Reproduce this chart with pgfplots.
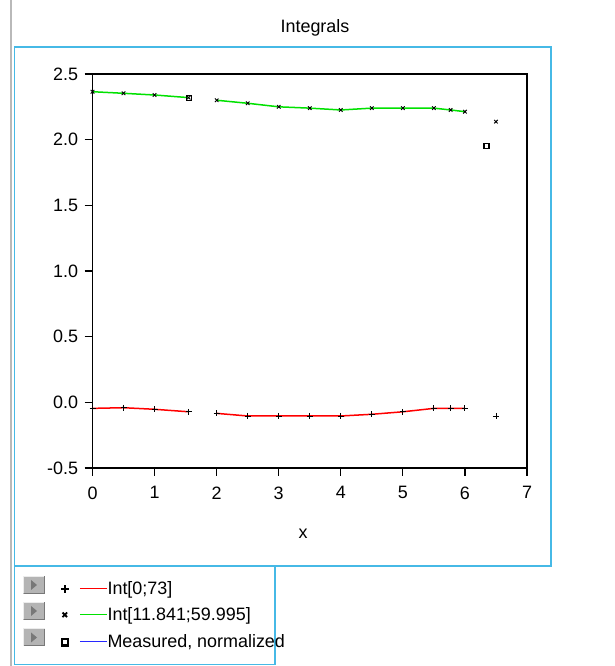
\documentclass[border=0pt]{standalone}
\usepackage{fontspec}
\setmainfont{Liberation Sans}
\usepackage{pgfplots}
\pgfplotsset{compat=1.18}

\definecolor{framecyan}{RGB}{70,185,230}
\definecolor{intgreen}{RGB}{0,225,0}
\definecolor{measblue}{RGB}{40,40,255}
\definecolor{iconface}{RGB}{180,180,180}
\definecolor{icondark}{RGB}{120,120,120}

% gray "play" button in front of each legend row (argument: centre y)
\newcommand{\playicon}[1]{%
  \fill[iconface] (23,#1-9) rectangle (45,#1+9);
  \draw[white!85!gray, line width=1bp] (23.5,#1-8.5) -- (23.5,#1+8.5) -- (44.5,#1+8.5);
  \draw[icondark, line width=1bp] (44.5,#1+8.5) -- (44.5,#1-8.5) -- (23.5,#1-8.5);
  \fill[icondark] (31,#1-5) -- (37,#1) -- (31,#1+5) -- cycle;
}

\begin{document}
\begin{tikzpicture}[x=1bp, y=1bp, font=\fontsize{18}{21}\selectfont]
\useasboundingbox (0,0) rectangle (615,666);

% window decorations
\draw[gray!55, line width=1.5bp] (11,0) -- (11,666);
\draw[framecyan, line width=1.6bp] (14.5,619) rectangle (551,100);
\draw[framecyan, line width=1.6bp] (14.5,100) rectangle (275,1.5);
\node[anchor=base] at (315,633.3) {Integrals};

\playicon{81}
\playicon{55}
\playicon{28.5}

\begin{axis}[
  at={(92.5bp,198bp)}, anchor=south west,
  scale only axis, width=434.5bp, height=394bp,
  xmin=0, xmax=7, ymin=-0.5, ymax=2.5,
  axis line style={black, line width=1.5bp},
  tick style={black, line width=1.2bp},
  tick align=outside, major tick length=8bp,
  xtick pos=bottom, ytick pos=left,
  xtick={0,1,...,7},
  ytick={-0.5,0,0.5,1,1.5,2,2.5},
  /pgf/number format/assume math mode=true,
  yticklabel style={xshift=-3bp, /pgf/number format/.cd, fixed, fixed zerofill, precision=1},
  xticklabel style={yshift=-7bp},
  ticklabel style={font=\fontsize{18}{21}\selectfont},
  xlabel={x},
  xlabel style={at={(axis description cs:0.4845,0)}, anchor=base, yshift=-71bp},
  unbounded coords=jump,
  legend style={at={(axis description cs:-0.0725,-0.285)}, anchor=north west,
    draw=none, fill=none, inner sep=0pt, outer sep=0pt,
    row sep=8.5bp, column sep=0pt,
    nodes={inner sep=0pt, text height=14bp, text depth=4bp},
    font=\fontsize{18}{21}\selectfont},
  legend cell align=left,
]

% Int[0;73]
\addplot[red, line width=1.5bp, mark=+, mark size=3bp,
  mark options={black, line width=0.9bp},
  legend image code/.code={
    \draw[red, line width=1.3bp] (15bp,1bp) -- (42bp,1bp);
    \draw[black] plot[mark=+, mark size=3.8bp,
      mark options={black, line width=2bp}] coordinates {(0bp,0bp)};
  }] coordinates {
  (0,-0.046) (0.5,-0.041) (1,-0.053) (1.55,-0.072)
  (1.8,nan)
  (2,-0.084) (2.5,-0.104) (3,-0.104) (3.5,-0.104) (4,-0.104)
  (4.5,-0.091) (5,-0.072) (5.5,-0.046) (5.77,-0.046) (6,-0.046)
};
\addlegendentry{Int[0;73]}

% Int[11.841;59.995]
\addplot[intgreen, line width=1.5bp, mark=x, mark size=2.5bp,
  mark options={black, line width=0.9bp},
  legend image code/.code={
    \draw[intgreen, line width=1.3bp] (15bp,1bp) -- (42bp,1bp);
    \draw[black] plot[mark=x, mark size=3.2bp,
      mark options={black, line width=1.9bp}] coordinates {(0bp,1bp)};
  }] coordinates {
  (0,2.365) (0.5,2.353) (1,2.34) (1.55,2.32)
  (1.8,nan)
  (2,2.30) (2.5,2.277) (3,2.25) (3.5,2.24) (4,2.226)
  (4.5,2.24) (5,2.24) (5.5,2.24) (5.77,2.226) (6,2.213)
};
\addlegendentry{Int[11.841;59.995]}

% Measured, normalized
\addplot[measblue, only marks, mark=square, mark size=2.5bp,
  mark options={black, line width=1.4bp},
  legend image code/.code={
    \draw[measblue, line width=1.5bp] (15bp,1bp) -- (42bp,1bp);
    \draw[black] plot[mark=square, mark size=3.2bp,
      mark options={black, line width=2.2bp}] coordinates {(0bp,0bp)};
  }] coordinates {
  (1.55,2.315) (6.35,1.952)
};
\addlegendentry{Measured, normalized}

% single points at x = 6.5
\addplot[forget plot, only marks, mark=+, mark size=3bp,
  mark options={black, line width=0.9bp}] coordinates {(6.5,-0.104)};
\addplot[forget plot, only marks, mark=x, mark size=2.5bp,
  mark options={black, line width=0.9bp}] coordinates {(6.5,2.137)};

\end{axis}
\end{tikzpicture}
\end{document}
